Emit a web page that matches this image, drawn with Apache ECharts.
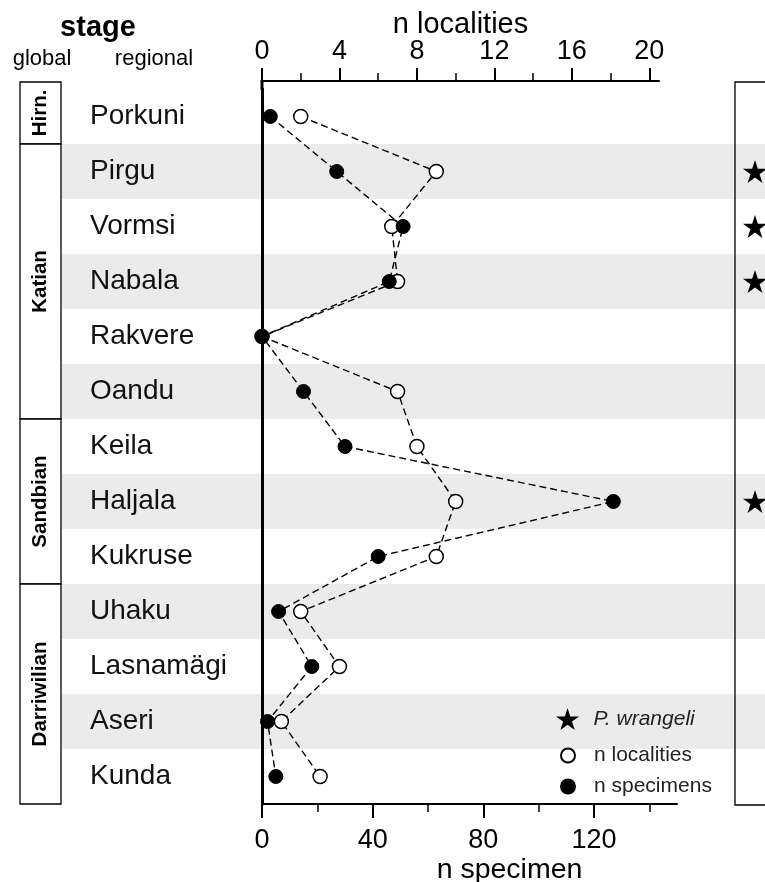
<!DOCTYPE html>
<html>
<head>
<meta charset="utf-8">
<script src="https://cdn.jsdelivr.net/npm/echarts@6/dist/echarts.min.js"></script>
<style>html,body{margin:0;padding:0;background:#fff;}#c{width:765px;height:882px;}</style>
</head>
<body>
<div id="c"></div>
<script>
// ---- data ----
const stages = ['Porkuni','Pirgu','Vormsi','Nabala','Rakvere','Oandu','Keila','Haljala','Kukruse','Uhaku','Lasnamägi','Aseri','Kunda'];
const nLocalities = [2, 9, 6.7, 7, 0, 7, 8, 10, 9, 2, 4, 1, 3];
const nSpecimens  = [3, 27, 51, 46, 0, 15, 30, 127, 42, 6, 18, 2, 5];
const wrangeliStages = ['Pirgu','Vormsi','Nabala','Haljala'];
const globalNames = ['Hirn.','Katian','Sandbian','Darriwilian'];
const globalFirst = ['Porkuni','Pirgu','Keila','Uhaku'];
const globalLast  = ['Porkuni','Oandu','Kukruse','Kunda'];
const localityTicks = [0,4,8,12,16,20];
const localityMinorTicks = [2,6,10,14,18];
const specimenTicks = [0,40,80,120];
const specimenMinorTicks = [20,60,100,140];

const FONT = '"Liberation Sans", Arial, sans-serif';
const STAR = 'path://M12,0 L14.69,8.29 L23.41,8.29 L16.36,13.42 L19.05,21.71 L12,16.58 L4.95,21.71 L7.64,13.42 L0.59,8.29 L9.31,8.29 Z';

const chart = echarts.init(document.getElementById('c'), null, {renderer:'canvas'});

const TOP = 89, H = 715;
const dash = {color:'#000', width:1.4, type:[7,4]};
const G = {top:TOP, height:H, outerBoundsMode:'none', containLabel:false};

const option = {
  animation:false,
  textStyle:{fontFamily:FONT, color:'#000'},
  grid:[
    Object.assign({left:262, width:397}, G),   // 0 localities
    Object.assign({left:262, width:415}, G),   // 1 specimens
    Object.assign({left:62, right:0}, G),      // 2 bands
    Object.assign({left:20, width:41}, G),     // 3 global stages
    Object.assign({left:745, width:20}, G)     // 4 stars
  ],
  xAxis:[
    {gridIndex:0, type:'value', position:'top', offset:8, min:0, max:20.5, z:1,
     name:'n localities', nameLocation:'middle', nameGap:42, nameMoveOverlap:false,
     nameTextStyle:{fontSize:29, color:'#000', fontFamily:FONT},
     axisLine:{show:true, lineStyle:{color:'#000', width:2}},
     axisTick:{show:true, customValues:localityTicks, length:13, lineStyle:{color:'#000', width:2}},
     axisLabel:{customValues:localityTicks, fontSize:27, color:'#000', margin:16, fontFamily:FONT},
     splitLine:{show:false}},
    {gridIndex:0, type:'value', position:'top', offset:8, min:0, max:20.5, z:1,
     axisLine:{show:false},
     axisTick:{show:true, customValues:localityMinorTicks, length:8, lineStyle:{color:'#000', width:1.5}},
     axisLabel:{show:false}, splitLine:{show:false}},
    {gridIndex:1, type:'value', position:'bottom', min:0, max:150, z:1,
     name:'n specimen', nameLocation:'middle', nameGap:52, nameMoveOverlap:false,
     nameTextStyle:{fontSize:28.5, color:'#000', fontFamily:FONT, padding:[0,0,0,80]},
     axisLine:{show:true, lineStyle:{color:'#000', width:2}},
     axisTick:{show:true, customValues:specimenTicks, length:14, lineStyle:{color:'#000', width:2}},
     axisLabel:{customValues:specimenTicks, fontSize:27, color:'#000', margin:23, fontFamily:FONT},
     splitLine:{show:false}},
    {gridIndex:1, type:'value', position:'bottom', min:0, max:150, z:1,
     axisLine:{show:false},
     axisTick:{show:true, customValues:specimenMinorTicks, length:8, lineStyle:{color:'#000', width:1.5}},
     axisLabel:{show:false}, splitLine:{show:false}},
    {gridIndex:2, type:'value', show:false, min:0, max:1},
    {gridIndex:3, type:'value', show:false, min:0, max:1},
    {gridIndex:4, type:'category', show:false, data:['P. wrangeli']}
  ],
  yAxis:[
    {gridIndex:0, type:'category', data:stages, inverse:true, z:1,
     axisLine:{show:true, lineStyle:{color:'#000', width:3}},
     axisTick:{show:false},
     axisLabel:{align:'left', margin:172, fontSize:28, color:'#111', fontFamily:FONT},
     splitLine:{show:false}},
    {gridIndex:1, type:'category', data:stages, inverse:true, show:false},
    {gridIndex:2, type:'category', data:stages, inverse:true, z:0,
     axisLine:{show:false}, axisTick:{show:false}, axisLabel:{show:false}, splitLine:{show:false},
     splitArea:{show:true, areaStyle:{color:['rgba(255,255,255,0)','#ebebeb']}}},
    {gridIndex:3, type:'category', data:stages, inverse:true, show:false},
    {gridIndex:4, type:'category', data:stages, inverse:true, show:false}
  ],
  legend:[
    {data:[{name:'P. wrangeli', icon:STAR}], orient:'vertical', left:551, top:703,
     itemWidth:42, itemHeight:22, selectedMode:false,
     textStyle:{fontSize:21, fontStyle:'italic', color:'#222', fontFamily:FONT}},
    {data:[{name:'n localities', icon:'circle'},{name:'n specimens', icon:'circle'}],
     orient:'vertical', left:555, top:739, itemWidth:42, itemHeight:14, itemGap:8, selectedMode:false,
     textStyle:{fontSize:21, color:'#222', fontFamily:FONT, lineHeight:23}}
  ],
  series:[
    {name:'n localities', type:'line', xAxisIndex:0, yAxisIndex:0, z:3,
     data: nLocalities.map((v,i)=>[v, stages[i]]),
     symbol:'circle', symbolSize:14, showAllSymbol:true,
     itemStyle:{color:'#fff', borderColor:'#000', borderWidth:1.5},
     lineStyle:dash},
    {name:'n specimens', type:'line', xAxisIndex:2, yAxisIndex:1, z:3,
     data: nSpecimens.map((v,i)=>[v, stages[i]]),
     symbol:'circle', symbolSize:14, showAllSymbol:true,
     itemStyle:{color:'#000', borderColor:'#000', borderWidth:1},
     lineStyle:dash},
    {name:'P. wrangeli', type:'scatter', xAxisIndex:6, yAxisIndex:4, z:3,
     data: wrangeliStages.map(s=>['P. wrangeli', s]),
     symbol:STAR, symbolSize:[24,23], itemStyle:{color:'#000', opacity:1}},
    {name:'global', type:'custom', xAxisIndex:5, yAxisIndex:3, z:3, clip:false,
     data: globalNames.map((n,i)=>[0.5, stages.indexOf(globalFirst[i]), stages.indexOf(globalLast[i])]),
     encode:{x:0, y:[1,2]},
     renderItem:function(params, api){
       const cs = params.coordSys;
       const band = api.size([0,1])[1];
       let yTop = api.coord([0, api.value(1)])[1] - band/2;
       const yBot = api.coord([0, api.value(2)])[1] + band/2;
       if (params.dataIndex === 0) yTop = cs.y - 7;
       return {type:'group', children:[
         {type:'rect', shape:{x:cs.x, y:yTop, width:cs.width, height:yBot-yTop},
          style:{fill:'#fff', stroke:'#000', lineWidth:1.3}},
         {type:'text', x:cs.x+cs.width/2, y:(yTop+yBot)/2, rotation:Math.PI/2,
          style:{text:globalNames[params.dataIndex], fontSize:20.5, fontWeight:'bold', fontFamily:FONT,
                 fill:'#000', align:'center', verticalAlign:'middle'}}
       ]};
     }}
  ],
  graphic:[
    {type:'text', x:98, y:28, z:10, style:{text:'stage', fontSize:29, fontWeight:'bold', fontFamily:FONT, fill:'#000', align:'center', verticalAlign:'middle'}},
    {type:'text', x:42, y:59, z:10, style:{text:'global', fontSize:22, fontFamily:FONT, fill:'#000', align:'center', verticalAlign:'middle'}},
    {type:'text', x:154, y:59, z:10, style:{text:'regional', fontSize:22, fontFamily:FONT, fill:'#000', align:'center', verticalAlign:'middle'}},
    {type:'rect', z:10, shape:{x:735, y:82, width:60, height:723}, style:{fill:'none', stroke:'#000', lineWidth:1.3}},
    {type:'line', z:10, shape:{x1:262, y1:80, x2:262, y2:90}, style:{stroke:'#000', lineWidth:3}}
  ]
};
chart.setOption(option);
</script>
</body>
</html>
